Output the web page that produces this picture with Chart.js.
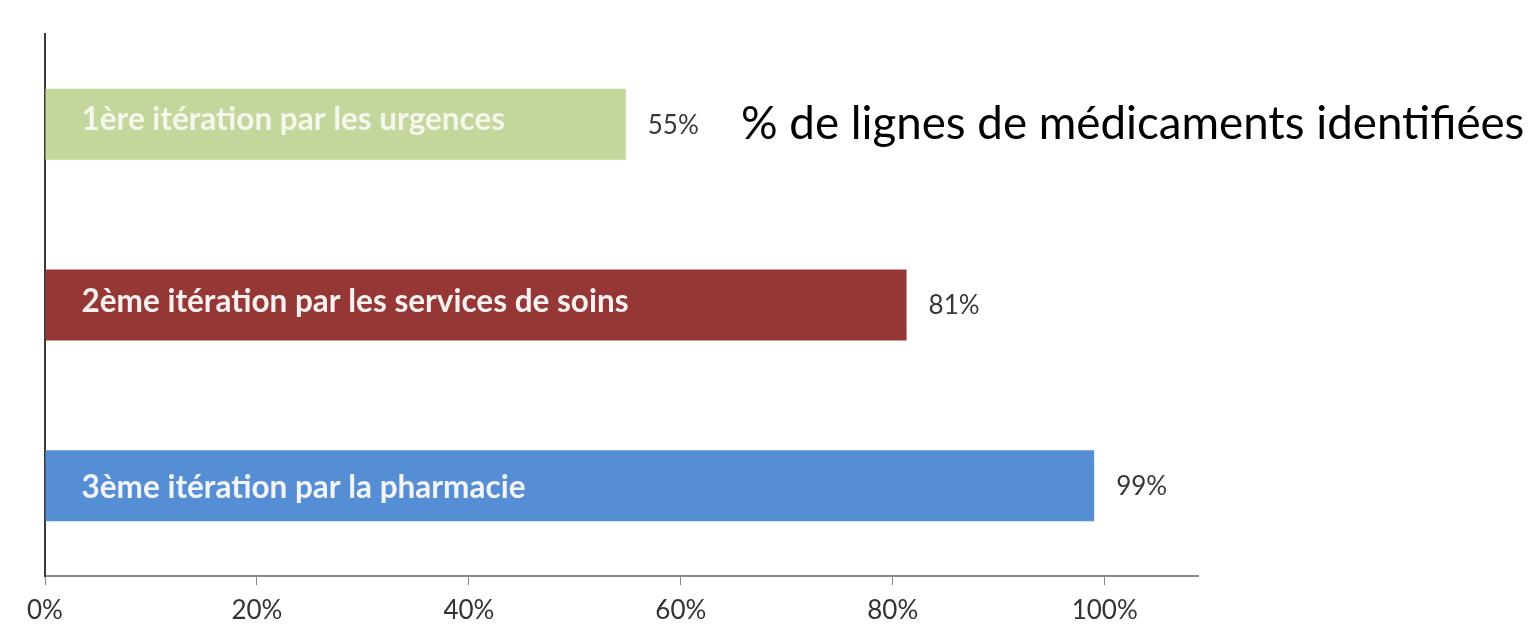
<!DOCTYPE html>
<html>
<head>
<meta charset="utf-8">
<script src="https://cdn.jsdelivr.net/npm/chart.js@4"></script>
<style>
  html, body { margin: 0; padding: 0; background: #fff; }
  #wrap { width: 1535px; height: 626px; }
</style>
</head>
<body>
<div id="wrap"><canvas id="iterChart"></canvas></div>
<script>
const categories = [
    '1ère itération par les urgences',
    '2ème itération par les services de soins',
    '3ème itération par la pharmacie'
];
const values = [54.8, 81.3, 99];
const valueLabels = ['55%', '81%', '99%'];
const xTicks = [0, 20, 40, 60, 80, 100];
const titleText = '% de lignes de médicaments identifiées';

const barColors = ['#c3d69b', '#953735', '#558ed5'];
const labelColors = ['#f4f7ec', '#fbf1f0', '#f2f6fc'];
const labelShift = [6, 7, 12];

// draws the labels inside the bars, the values next to them and the side title
const barText = {
    id: 'barText',
    afterDatasetsDraw(chart) {
        const ctx = chart.ctx;
        const meta = chart.getDatasetMeta(0);
        ctx.save();
        meta.data.forEach((bar, i) => {
            ctx.font = 'bold 31.5px Lato';
            ctx.fillStyle = labelColors[i];
            ctx.textAlign = 'left';
            ctx.textBaseline = 'alphabetic';
            ctx.fillText(categories[i], bar.base + 36, bar.y + labelShift[i]);

            ctx.font = '26px Lato';
            ctx.fillStyle = '#383838';
            ctx.textBaseline = 'middle';
            ctx.fillText(valueLabels[i], bar.x + 22, bar.y + 1);
        });

        const first = meta.data[0];
        ctx.font = '44px Lato';
        const w = ctx.measureText(titleText).width;
        const size = 44 * 784 / w;
        ctx.font = size.toFixed(1) + 'px Lato';
        ctx.fillStyle = '#000';
        ctx.textBaseline = 'middle';
        ctx.fillText(titleText, 741, first.y);
        ctx.restore();
    }
};

new Chart(document.getElementById('iterChart').getContext('2d'), {
    type: 'bar',
    data: {
        labels: categories,
        datasets: [{
            data: values,
            backgroundColor: barColors,
            borderWidth: 0,
            categoryPercentage: 1,
            barPercentage: 0.393
        }]
    },
    options: {
        indexAxis: 'y',
        responsive: true,
        maintainAspectRatio: false,
        animation: false,
        layout: {
            padding: { left: 45, right: 337, top: 34, bottom: 0 }
        },
        plugins: {
            legend: { display: false },
            tooltip: { enabled: false }
        },
        scales: {
            x: {
                min: 0,
                max: 108.8,
                border: { display: true, color: '#8a8a8a', width: 2 },
                grid: {
                    drawOnChartArea: false,
                    drawTicks: true,
                    tickLength: 9,
                    tickColor: '#8a8a8a'
                },
                afterBuildTicks: axis => {
                    axis.ticks = xTicks.map(v => ({ value: v }));
                },
                afterFit: axis => {
                    axis.height = 50;
                },
                ticks: {
                    includeBounds: false,
                    padding: 13,
                    color: '#333',
                    font: { family: 'Lato', size: 26, lineHeight: 1 },
                    callback: value => value + '%'
                }
            },
            y: {
                border: { display: true, color: '#3a3a3a', width: 2 },
                grid: { display: false },
                ticks: { display: false },
                afterFit: axis => {
                    axis.width = 0;
                }
            }
        }
    },
    plugins: [barText]
});
</script>
</body>
</html>
